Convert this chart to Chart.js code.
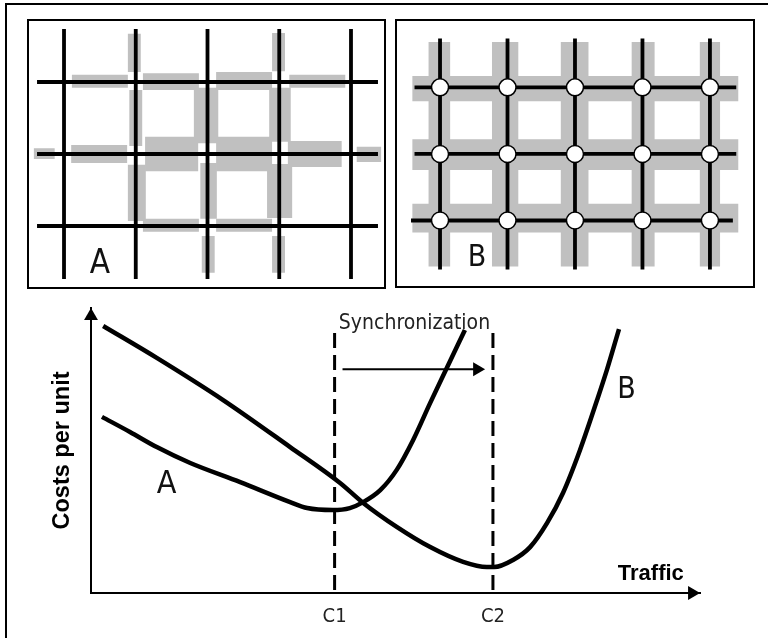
<!DOCTYPE html>
<html>
<head>
<meta charset="utf-8">
<script src="https://cdn.jsdelivr.net/npm/chart.js@4.4.0/dist/chart.umd.min.js"></script>
<style>
html,body{margin:0;padding:0;background:#fff;}
#page{position:relative;width:768px;height:638px;overflow:hidden;background:#fff;}
#frame{position:absolute;left:5px;top:3px;width:800px;height:700px;border-top:2px solid #000;border-left:2px solid #000;}
.panel{position:absolute;box-sizing:border-box;border:2px solid #000;}
canvas{position:absolute;display:block;}
</style>
</head>
<body>
<div id="page">
  <div id="frame"></div>
  <div class="panel" style="left:27px;top:19px;width:359px;height:270px"></div>
  <div class="panel" style="left:395px;top:19px;width:360px;height:269px"></div>
  <canvas id="cA" width="355" height="266" style="left:29px;top:21px"></canvas>
  <canvas id="cB" width="356" height="265" style="left:397px;top:21px"></canvas>
  <canvas id="cMain" width="768" height="343" style="left:0;top:295px"></canvas>
</div>
<script>
// ---------------- data ----------------
// Street grids (grid units: column index / row index)
const gridCols = [0, 1, 2, 3, 4];
const gridRows = [0, 1, 2];
const gridVertSpan = [-0.736, 2.736];
const gridAHorizSpan = [-0.376, 4.376];
const gridBHorizSpans = [[-0.378, 4.39], [-0.378, 4.39], [-0.43, 4.34]];

// Panel A: scattered green-wave segments [x1, x2, y1, y2]
const panelASegments = [
  [0.89, 1.07, -0.67, -0.14],
  [2.90, 3.08, -0.68, -0.15],
  [0.11, 0.89, -0.10, 0.08],
  [1.10, 1.88, -0.12, 0.11],
  [2.12, 2.90, -0.14, 0.11],
  [3.14, 3.92, -0.10, 0.08],
  [0.91, 1.09, 0.11, 0.89],
  [1.81, 2.15, 0.08, 0.85],
  [2.86, 3.16, 0.08, 0.83],
  [-0.42, -0.13, 0.92, 1.07],
  [0.10, 0.88, 0.875, 1.125],
  [1.13, 1.87, 0.76, 1.24],
  [2.12, 2.90, 0.76, 1.24],
  [3.12, 3.87, 0.82, 1.18],
  [4.08, 4.42, 0.90, 1.11],
  [0.89, 1.14, 1.15, 1.93],
  [1.90, 2.13, 1.125, 1.90],
  [2.83, 3.18, 1.14, 1.89],
  [1.10, 1.88, 1.90, 2.08],
  [2.12, 2.90, 1.90, 2.08],
  [1.92, 2.10, 2.14, 2.65],
  [2.90, 3.08, 2.14, 2.65]
];
// Panel B: full coordinated bands [x1, x2, y1, y2]
const panelBSegments = [
  [-0.17, 0.15, -0.68, 2.69],
  [0.77, 1.16, -0.68, 2.69],
  [1.79, 2.20, -0.68, 2.69],
  [2.84, 3.18, -0.68, 2.69],
  [3.85, 4.15, -0.68, 2.69],
  [-0.41, 4.42, -0.17, 0.21],
  [-0.41, 4.42, 0.78, 1.24],
  [-0.41, 4.42, 1.75, 2.18]
];

// Cost curves (traffic 0..10, cost per unit 0..10)
const curveATraffic = [0.18, 0.64, 1.08, 1.63, 2.45, 3.27, 3.55, 3.97, 4.25, 4.47, 4.75, 5.02, 5.29, 5.57, 5.85, 6.14];
const curveACost    = [6.18, 5.65, 5.12, 4.56, 3.89, 3.19, 2.98, 2.91, 2.98, 3.19, 3.61, 4.32, 5.37, 6.67, 7.93, 9.23];
const curveBTraffic = [0.20, 1.08, 2.17, 3.27, 4.09, 4.47, 5.02, 5.57, 6.11, 6.50, 6.62, 6.93, 7.21, 7.49, 7.75, 8.03, 8.31, 8.47, 8.67];
const curveBCost    = [9.37, 8.25, 6.77, 5.12, 3.86, 3.16, 2.32, 1.61, 1.09, 0.91, 0.91, 1.16, 1.61, 2.46, 3.51, 5.02, 6.77, 7.82, 9.26];
const xTickValues = [4.0, 6.6];
const xTickLabels = ['C1', 'C2'];
const dashTop = 9.12;
const syncArrow = {from: 4.13, to: 6.34, level: 7.85};

// ---------------- styles ----------------
const FONT_NARROW = "'DejaVu Sans Condensed','Liberation Sans Narrow',sans-serif";
const FONT_SANS = "'Liberation Sans',Arial,sans-serif";
const GRAY = '#c0c0c0';

const textMarks = {
  id: 'textMarks',
  afterDatasetsDraw(chart, args, opts) {
    const ctx = chart.ctx, xs = chart.scales.x, ys = chart.scales.y;
    (opts.items || []).forEach(it => {
      ctx.save();
      ctx.font = it.font;
      ctx.fillStyle = it.color || '#000';
      ctx.textAlign = it.align || 'left';
      ctx.textBaseline = 'alphabetic';
      ctx.fillText(it.text, xs.getPixelForValue(it.x), ys.getPixelForValue(it.y));
      ctx.restore();
    });
  }
};

function rectDataset(r) {
  const [x1, x2, y1, y2] = r;
  return {
    data: [{x: x1, y: y1}, {x: x2, y: y1}, {x: x2, y: y2}, {x: x1, y: y2}, {x: x1, y: y1}],
    fill: 'shape', backgroundColor: GRAY, borderColor: 'rgba(0,0,0,0)', borderWidth: 0,
    pointRadius: 0, tension: 0
  };
}
function lineDataset(pts, width, extra) {
  return Object.assign({
    data: pts, borderColor: '#000', borderWidth: width, pointRadius: 0,
    fill: false, tension: 0, borderCapStyle: 'butt'
  }, extra || {});
}

function panelChart(id, xr, yr, datasets, labels) {
  return new Chart(document.getElementById(id), {
    type: 'line',
    data: {datasets},
    options: {
      responsive: false, animation: false, events: [],
      layout: {padding: 0},
      plugins: {legend: {display: false}, tooltip: {enabled: false}, textMarks: {items: labels}},
      scales: {
        x: {type: 'linear', display: false, min: xr[0], max: xr[1]},
        y: {type: 'linear', display: false, min: yr[0], max: yr[1], reverse: true}
      }
    },
    plugins: [textMarks]
  });
}

// ---------------- Panel A ----------------
(function () {
  const ds = [];
  gridCols.forEach(c => ds.push(lineDataset([{x: c, y: gridVertSpan[0]}, {x: c, y: gridVertSpan[1]}], 3.8)));
  gridRows.forEach(r => ds.push(lineDataset([{x: gridAHorizSpan[0], y: r}, {x: gridAHorizSpan[1], y: r}], 3.8)));
  panelASegments.forEach(s => ds.push(rectDataset(s)));
  panelChart('cA', [-0.488, 4.460], [-0.847, 2.847], ds,
    [{text: 'A', x: 0.36, y: 2.65, font: '33px ' + FONT_NARROW, color: '#111'}]);
})();

// ---------------- Panel B ----------------
(function () {
  const ds = [];
  const nodes = [];
  gridRows.forEach(r => gridCols.forEach(c => nodes.push({x: c, y: r})));
  ds.push({data: nodes, showLine: false, pointRadius: 8.5, pointBackgroundColor: '#fff',
           pointBorderColor: '#000', pointBorderWidth: 1.5});
  gridCols.forEach(c => ds.push(lineDataset([{x: c, y: gridVertSpan[0]}, {x: c, y: gridVertSpan[1]}], 3.8)));
  gridRows.forEach((r, i) => ds.push(lineDataset([{x: gridBHorizSpans[i][0], y: r}, {x: gridBHorizSpans[i][1], y: r}], 3.8)));
  panelBSegments.forEach(s => ds.push(rectDataset(s)));
  panelChart('cB', [-0.4895, 4.490], [-0.847, 2.834], ds,
    [{text: 'B', x: 0.41, y: 2.68, font: '30px ' + FONT_NARROW, color: '#111'}]);
})();

// ---------------- Cost chart ----------------
(function () {
  const ptsA = curveATraffic.map((x, i) => ({x, y: curveACost[i]}));
  const ptsB = curveBTraffic.map((x, i) => ({x, y: curveBCost[i]}));
  const curveStyle = {cubicInterpolationMode: 'monotone', borderCapStyle: 'butt', borderJoinStyle: 'round'};
  const datasets = [
    lineDataset(ptsA, 4.5, curveStyle),
    lineDataset(ptsB, 4.5, curveStyle),
    lineDataset([{x: syncArrow.from, y: syncArrow.level}, {x: syncArrow.to, y: syncArrow.level}], 2,
      {pointRadius: [0, 8], pointStyle: 'triangle', pointRotation: 90, pointBackgroundColor: '#000', pointBorderWidth: 0, clip: false}),
    lineDataset([{x: 9.87, y: 0}], 0,
      {showLine: false, pointRadius: 8, pointStyle: 'triangle', pointRotation: 90, pointBackgroundColor: '#000', pointBorderWidth: 0, clip: false}),
    lineDataset([{x: 0, y: 9.72}], 0,
      {showLine: false, pointRadius: 8, pointStyle: 'triangle', pointRotation: 0, pointBackgroundColor: '#000', pointBorderWidth: 0, clip: false}),
    lineDataset([{x: xTickValues[0], y: dashTop}, {x: xTickValues[0], y: 0}], 3, {borderDash: [15, 7]}),
    lineDataset([{x: xTickValues[1], y: dashTop}, {x: xTickValues[1], y: 0}], 3, {borderDash: [15, 7]})
  ];
  new Chart(document.getElementById('cMain'), {
    type: 'line',
    data: {datasets},
    options: {
      responsive: false, animation: false, events: [],
      layout: {padding: {left: 40, right: 68, top: 13, bottom: 0}},
      plugins: {
        legend: {display: false}, tooltip: {enabled: false},
        textMarks: {items: [
          {text: 'Synchronization', x: 4.07, y: 9.26, font: '21px ' + FONT_NARROW, color: '#222'},
          {text: 'A', x: 1.08, y: 3.51, font: '32px ' + FONT_NARROW, color: '#111'},
          {text: 'B', x: 8.64, y: 6.84, font: '30px ' + FONT_NARROW, color: '#111'},
          {text: 'Traffic', x: 8.65, y: 0.46, font: 'bold 22px ' + FONT_SANS, color: '#000'}
        ]}
      },
      scales: {
        x: {
          type: 'linear', min: 0, max: 10,
          grid: {display: false},
          border: {display: true, color: '#000', width: 2},
          afterBuildTicks: s => { s.ticks = xTickValues.map(v => ({value: v})); },
          afterFit: s => { s.height = 45; },
          ticks: {autoSkip: false, maxRotation: 0, minRotation: 0, padding: 4, color: '#222',
                  font: {family: FONT_NARROW, size: 20},
                  callback: (v, i) => xTickLabels[i]}
        },
        y: {
          type: 'linear', min: 0, max: 10,
          grid: {display: false},
          border: {display: true, color: '#000', width: 2},
          ticks: {display: false},
          afterFit: s => { s.width = 51; },
          title: {display: true, text: 'Costs per unit', color: '#000',
                  font: {family: FONT_SANS, size: 23.5, weight: 'bold'}, padding: {top: 8, bottom: 0}}
        }
      }
    },
    plugins: [textMarks]
  });
})();
</script>
</body>
</html>
